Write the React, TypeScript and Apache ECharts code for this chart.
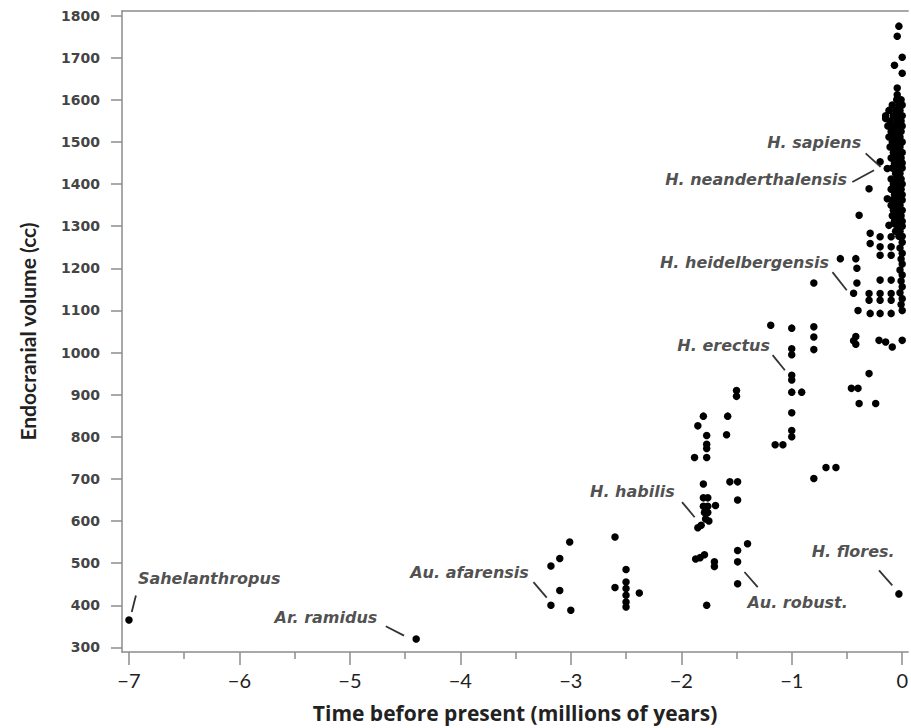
import React, { useEffect, useRef } from "react";
import * as echarts from "echarts";

// ---- axis ticks ----
const xTickValues = [-7, -6, -5, -4, -3, -2, -1, 0];
const xMinorTickValues = [-6.5, -5.5, -4.5, -3.5, -2.5, -1.5, -0.5];
const yTickValues = [300, 400, 500, 600, 700, 800, 900, 1000, 1100, 1200, 1300, 1400, 1500, 1600, 1700, 1800];

// ---- fossil data: [time (Myr before present), endocranial volume (cc)] ----
const earlyHominins: number[][] = [
  [-7.0, 365], [-4.4, 320],
];

const australopiths: number[][] = [
  [-3.18, 493], [-3.1, 511], [-3.01, 550], [-3.1, 435], [-3.18, 400], [-3.0, 388],
  [-2.6, 562], [-2.6, 442], [-2.5, 485], [-2.5, 455], [-2.5, 440], [-2.5, 424],
  [-2.5, 408], [-2.5, 396], [-2.38, 429],
  [-1.87, 510], [-1.83, 513], [-1.79, 520], [-1.7, 503], [-1.7, 492],
  [-1.49, 530], [-1.4, 546], [-1.49, 503], [-1.49, 451], [-1.77, 400],
];

const earlyHomo: number[][] = [
  [-1.8, 849], [-1.58, 849], [-1.85, 826], [-1.77, 803], [-1.59, 805],
  [-1.77, 782], [-1.77, 772], [-1.88, 751], [-1.77, 751], [-1.8, 688],
  [-1.56, 693], [-1.49, 693], [-1.49, 650], [-1.69, 637],
  [-1.8, 655], [-1.76, 655], [-1.8, 635], [-1.76, 635], [-1.79, 620], [-1.76, 620],
  [-1.78, 605], [-1.75, 600], [-1.82, 590], [-1.85, 584],
  [-1.5, 910], [-1.5, 896],
];

const erectus: number[][] = [
  [-1.19, 1065], [-1.0, 1058], [-1.0, 1009], [-1.0, 995], [-1.0, 946], [-1.0, 935],
  [-1.0, 906], [-0.91, 906], [-1.0, 857], [-1.0, 815], [-1.0, 800],
  [-1.15, 781], [-1.08, 781],
  [-0.8, 1061], [-0.8, 1037], [-0.8, 1007], [-0.8, 1165],
  [-0.8, 701], [-0.69, 727], [-0.6, 727],
];

const middlePleistocene: number[][] = [
  [-0.56, 1223], [-0.42, 1223], [-0.41, 1200], [-0.41, 1165], [-0.44, 1141], [-0.4, 1100],
  [-0.42, 1038], [-0.44, 1028], [-0.42, 1020],
  [-0.46, 915], [-0.4, 915], [-0.39, 879], [-0.24, 879], [-0.3, 950],
  [-0.29, 1283], [-0.29, 1259], [-0.3, 1140], [-0.3, 1124], [-0.29, 1093],
  [-0.3, 1389], [-0.39, 1326], [-0.2, 1453], [-0.135, 1437], [-0.135, 1365],
  [-0.2, 1275], [-0.1, 1275], [-0.2, 1251], [-0.1, 1251], [-0.2, 1231], [-0.1, 1231],
  [-0.2, 1172], [-0.1, 1172], [-0.2, 1140], [-0.1, 1140], [-0.2, 1124], [-0.1, 1124],
  [-0.2, 1093], [-0.1, 1093], [-0.21, 1029], [-0.15, 1025], [-0.09, 1013],
  [-0.12, 1302], [-0.07, 1306], [-0.15, 1556], [-0.03, 427],
];

const recentHomo: number[][] = [
  [-0.03, 1775], [-0.045, 1751], [0.0, 1701], [-0.07, 1682], [0.0, 1663], [-0.045, 1628], [-0.045, 1612],
  [-0.05, 1600], [-0.01, 1600],
  [-0.09, 1588], [-0.03, 1588], [0.0, 1588],
  [-0.12, 1575], [-0.06, 1575], [-0.02, 1575],
  [-0.15, 1562], [-0.08, 1562], [-0.03, 1562], [0.0, 1562],
  [-0.11, 1550], [-0.05, 1550], [-0.01, 1550],
  [-0.13, 1538], [-0.08, 1538], [-0.03, 1538], [0.0, 1538],
  [-0.1, 1525], [-0.05, 1525], [-0.01, 1525],
  [-0.12, 1512], [-0.07, 1512], [-0.02, 1512],
  [-0.09, 1500], [-0.04, 1500], [0.0, 1500],
  [-0.11, 1488], [-0.06, 1488], [-0.02, 1488],
  [-0.08, 1475], [-0.03, 1475], [0.0, 1475],
  [-0.1, 1462], [-0.05, 1462], [-0.01, 1462],
  [-0.07, 1450], [-0.03, 1450], [0.0, 1450],
  [-0.09, 1438], [-0.04, 1438], [0.0, 1438],
  [-0.06, 1425], [-0.02, 1425],
  [-0.1, 1412], [-0.05, 1412], [-0.01, 1412],
  [-0.08, 1400], [-0.03, 1400], [0.0, 1400],
  [-0.1, 1388], [-0.05, 1388], [-0.01, 1388],
  [-0.07, 1375], [-0.03, 1375], [0.0, 1375],
  [-0.09, 1362], [-0.04, 1362], [0.0, 1362],
  [-0.1, 1350], [-0.06, 1350], [-0.02, 1350],
  [-0.08, 1338], [-0.03, 1338], [0.0, 1338],
  [-0.09, 1325], [-0.05, 1325], [-0.01, 1325],
  [-0.07, 1312], [-0.03, 1312], [0.0, 1312],
  [-0.04, 1300], [0.0, 1300],
  [-0.06, 1288], [-0.02, 1288],
  [-0.03, 1276], [0.0, 1276],
  [0.0, 1262], [-0.02, 1248], [0.0, 1236], [-0.01, 1222], [0.0, 1210], [-0.02, 1196],
  [0.0, 1184], [-0.01, 1170], [0.0, 1156], [-0.02, 1142], [0.0, 1128], [-0.01, 1114],
  [0.0, 1100], [0.0, 1029],
];

// ---- annotations ----
const labelNames = [
  "Sahelanthropus", "Ar. ramidus", "Au. afarensis", "H. habilis", "Au. robust.",
  "H. flores.", "H. erectus", "H. heidelbergensis", "H. sapiens", "H. neanderthalensis",
];
const labelX = [-6.274, -5.217, -3.917, -2.443, -0.947, -0.444, -1.616, -1.428, -0.797, -1.323];
const labelY = [464, 371, 478, 670, 407, 527, 1017, 1213, 1498, 1412];
const leaderFrom: number[][] = [
  [-6.937, 423], [-4.675, 350], [-3.338, 455], [-1.993, 645], [-1.428, 479],
  [-0.21, 483], [-1.173, 994], [-0.631, 1191], [-0.331, 1473], [-0.451, 1405],
];
const leaderTo: number[][] = [
  [-6.975, 384], [-4.51, 328], [-3.218, 418], [-1.879, 609], [-1.308, 443],
  [-0.09, 447], [-1.062, 958], [-0.502, 1148], [-0.196, 1441], [-0.255, 1433],
];

const TEXT = "#222222";
const AXIS = "#8c8c8c";

export default function App() {
  const ref = useRef<HTMLDivElement>(null);
  useEffect(() => {
    if (!ref.current) return;
    const chart = echarts.init(ref.current, null, { renderer: "svg" });
    const allPoints = [
      ...earlyHominins, ...australopiths, ...earlyHomo, ...erectus, ...middlePleistocene, ...recentHomo,
    ];
    chart.setOption({
      animation: false,
      backgroundColor: "#ffffff",
      grid: { left: 122, right: 0, top: 11, bottom: 76, containLabel: false },
      xAxis: [
        {
          type: "value",
          position: "bottom",
          min: -7.063,
          max: 0.054,
          name: "Time before present (millions of years)",
          nameLocation: "middle",
          nameGap: 50,
          nameTextStyle: { fontFamily: "Open Sans", fontWeight: "bold", fontSize: 21, color: TEXT },
          axisLine: { onZero: false, lineStyle: { color: AXIS, width: 1.5 } },
          axisTick: { customValues: xTickValues, length: 13, lineStyle: { color: AXIS, width: 1.5 } },
          axisLabel: {
            customValues: xTickValues,
            margin: 18,
            fontFamily: "Lato",
            fontSize: 20,
            color: TEXT,
            formatter: (v: number) => (v < 0 ? "\u2212" + Math.abs(v) : String(v)),
          },
          splitLine: { show: false },
        },
        {
          type: "value",
          position: "bottom",
          min: -7.063,
          max: 0.054,
          axisLine: { show: false, onZero: false },
          axisTick: { customValues: xMinorTickValues, length: 7, lineStyle: { color: AXIS, width: 1.5 } },
          axisLabel: { show: false },
          splitLine: { show: false },
        },
        {
          type: "value",
          position: "top",
          min: -7.063,
          max: 0.054,
          axisLine: { show: true, onZero: false, lineStyle: { color: AXIS, width: 1.5 } },
          axisTick: { show: false },
          axisLabel: { show: false },
          splitLine: { show: false },
        },
      ],
      yAxis: {
        type: "value",
        min: 289,
        max: 1811,
        name: "Endocranial volume (cc)",
        nameLocation: "middle",
        nameGap: 84,
        nameTextStyle: { fontFamily: "Lato", fontWeight: "bold", fontSize: 21, color: TEXT },
        axisLine: { show: true, onZero: false, lineStyle: { color: AXIS, width: 1.5 } },
        axisTick: { show: true, customValues: yTickValues, length: 11, lineStyle: { color: AXIS, width: 1.5 } },
        axisLabel: {
          customValues: yTickValues,
          margin: 22,
          fontFamily: "DejaVu Sans",
          fontWeight: "bold",
          fontSize: 14,
          color: "#444444",
          formatter: (v: number) => String(v),
        },
        splitLine: { show: false },
      },
      series: [
        {
          type: "scatter",
          xAxisIndex: 0,
          data: allPoints,
          symbol: "circle",
          symbolSize: 7.5,
          itemStyle: { color: "#000000", opacity: 1 },
          silent: true,
        },
        {
          type: "scatter",
          xAxisIndex: 0,
          data: labelNames.map((n, i) => ({ name: n, value: [labelX[i], labelY[i]] })),
          symbolSize: 0,
          silent: true,
          label: {
            show: true,
            position: "inside",
            align: "center",
            verticalAlign: "middle",
            formatter: "{b}",
            fontFamily: "DejaVu Sans",
            fontStyle: "italic",
            fontWeight: "bold",
            fontSize: 16,
            color: TEXT,
          },
          markLine: {
            silent: true,
            symbol: ["none", "none"],
            label: { show: false },
            lineStyle: { color: "#333333", width: 1.8, type: "solid" },
            data: leaderFrom.map((p, i) => [{ coord: p }, { coord: leaderTo[i] }]),
          },
        },
      ],
    });
    return () => chart.dispose();
  }, []);
  return (
    <div
      ref={ref}
      style={{ position: "fixed", left: 0, top: 0, width: 911, height: 728, background: "#fff" }}
    />
  );
}
